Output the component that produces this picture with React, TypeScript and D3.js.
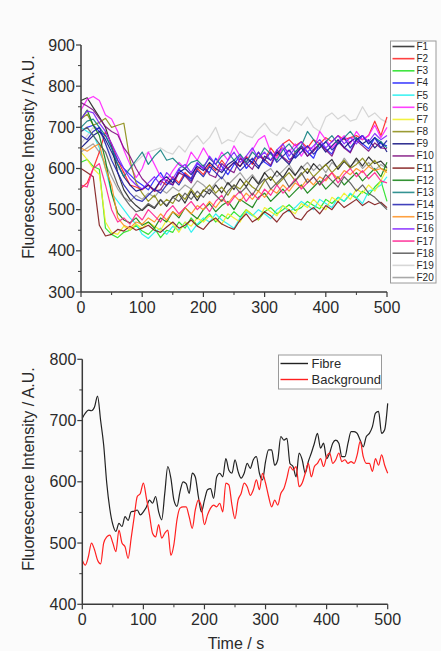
import React from "react";
import * as d3 from "d3";

// ---------- Top chart data (t = 0..500 s, step 10) ----------
const TOP_TIME = d3.range(0, 501, 10);
const SERIES_NAMES = ["F1","F2","F3","F4","F5","F6","F7","F8","F9","F10","F11","F12","F13","F14","F15","F16","F17","F18","F19","F20"];
const SERIES_COLORS = ["#222222","#ff2020","#20e020","#2020ff","#20f0f0","#ff20ff","#f0f020","#8a8a10","#101080","#801080","#801818","#108010","#108080","#2020b0","#ff9020","#8020ff","#ff2090","#555555","#d0d0d0","#9a9a9a"];

const F1 = [765,772,748,725,700,655,590,548,525,510,498,512,503,524,508,531,538,516,545,522,548,538,560,541,566,549,575,556,580,562,590,571,594,578,601,583,606,588,612,596,609,622,598,617,603,625,606,628,612,618,602];
const F2 = [552,565,600,640,690,660,620,590,560,555,548,560,545,570,560,580,565,590,575,600,585,610,595,620,600,615,605,630,610,640,620,650,630,660,670,655,665,650,670,660,675,665,680,670,675,680,670,680,715,680,725];
const F3 = [615,622,605,598,455,440,432,445,450,462,448,440,455,432,450,445,470,455,480,462,475,490,470,488,478,495,482,500,488,475,495,505,490,500,512,498,505,520,510,502,525,515,530,520,538,528,545,535,555,570,520];
const F4 = [690,700,705,690,680,650,620,600,585,570,560,548,572,590,565,560,598,585,575,612,600,590,625,605,585,610,632,600,618,640,615,605,638,650,622,628,655,640,625,662,648,635,668,652,640,672,660,648,675,660,655];
const F5 = [700,690,682,650,600,540,520,500,480,465,440,430,445,455,440,460,450,470,445,465,480,470,490,475,465,455,480,495,485,500,490,478,500,510,495,505,520,510,500,525,515,505,530,520,540,530,515,545,550,560,580];
const F6 = [742,768,775,765,730,720,690,645,610,578,600,640,610,580,570,595,615,600,640,620,650,625,610,640,620,655,630,615,645,670,680,640,625,650,640,660,630,655,645,690,670,650,665,680,660,690,670,680,705,675,700];
const F7 = [640,622,600,585,470,445,440,460,450,465,455,470,460,450,475,465,445,470,460,480,470,485,475,465,490,480,470,500,488,475,505,495,485,510,500,490,515,505,525,510,500,530,520,540,525,550,540,560,545,570,600];
const F8 = [720,732,705,712,722,700,705,710,620,565,540,520,535,510,525,515,540,525,550,530,545,560,540,555,535,560,550,570,555,545,570,580,560,575,590,570,585,600,580,595,610,590,605,620,600,610,625,605,620,600,595];
const F9 = [650,665,680,690,670,640,610,580,560,545,550,560,548,570,580,565,590,600,585,605,595,615,600,590,610,620,605,625,615,600,630,620,640,625,610,635,650,630,645,660,640,655,670,650,665,675,660,670,650,665,640];
const F10 = [760,752,742,722,702,690,682,650,630,600,575,560,545,548,572,560,590,582,565,600,608,585,578,612,598,590,625,612,598,630,622,608,645,628,615,640,655,630,642,660,645,630,665,650,638,668,655,642,662,650,648];
const F11 = [600,590,580,462,436,440,452,448,460,450,455,462,450,445,458,470,455,462,475,460,452,470,480,465,458,452,475,490,470,480,495,485,470,490,500,480,475,495,505,490,510,500,520,505,515,525,510,520,512,518,505];
const F12 = [720,742,705,680,620,540,492,475,468,480,462,470,455,480,470,495,480,505,490,478,500,515,495,510,520,500,525,515,505,530,540,520,535,550,530,545,560,540,555,570,550,565,580,560,575,590,570,585,600,580,615];
const F13 = [700,715,720,700,680,650,610,580,600,620,640,610,630,645,620,625,610,600,615,620,605,625,610,630,640,620,635,615,640,625,650,635,620,645,660,640,655,690,670,650,665,680,660,675,690,670,680,660,675,665,650];
const F14 = [680,670,690,700,660,620,590,560,540,525,520,535,550,540,560,575,560,585,570,595,580,605,590,575,600,615,595,610,625,605,620,640,615,630,645,625,640,655,635,650,665,645,660,675,650,670,680,660,675,650,668];
const F15 = [650,642,652,660,600,560,480,462,455,470,465,480,470,490,475,495,485,505,490,510,500,520,505,525,515,535,520,540,525,545,530,550,540,560,545,565,555,575,560,580,570,590,575,595,585,600,590,605,595,600,590];
const F16 = [720,740,735,710,690,660,630,600,575,560,550,565,580,560,590,575,600,610,590,615,600,630,610,595,620,640,615,630,650,625,640,620,645,660,630,650,665,640,655,670,650,665,680,660,675,660,680,665,685,670,680];
const F17 = [560,555,600,612,560,500,470,480,465,490,475,500,485,470,495,510,490,505,520,500,515,495,520,535,510,530,545,520,540,525,550,535,560,540,555,575,550,565,580,560,575,590,565,585,600,580,595,575,590,570,565];
const F18 = [690,700,680,660,640,600,560,530,510,495,500,515,505,525,510,530,520,540,525,545,530,550,535,520,545,560,540,555,535,560,575,550,565,580,555,570,590,565,580,560,585,570,555,580,565,545,560,540,530,515,500];
const F19 = [660,680,700,690,660,630,600,590,600,615,630,640,645,650,640,635,655,640,665,680,660,675,700,660,670,665,690,680,675,695,710,690,680,700,690,715,705,725,700,690,725,735,720,730,715,720,750,725,735,720,712];
const F20 = [640,650,660,640,610,580,550,530,520,535,525,540,530,550,540,555,545,560,550,570,560,545,565,580,560,575,590,570,585,565,590,600,580,595,610,585,600,615,595,610,590,615,600,625,605,620,600,615,595,610,600];
const TOP_SERIES = [F1,F2,F3,F4,F5,F6,F7,F8,F9,F10,F11,F12,F13,F14,F15,F16,F17,F18,F19,F20];
// draw order: light gray first so the tangle sits over it
const DRAW_ORDER = [18,19,0,1,2,3,4,5,6,7,8,9,10,11,12,13,14,15,16,17];

// ---------- Bottom chart data (t = 0..500 s, step 5) ----------
const BOTTOM_TIME = d3.range(0, 501, 5);
const FIBRE = [704,712,717,716,722,740,700,660,598,556,530,519,532,527,543,537,551,552,554,546,551,559,570,565,576,551,538,581,625,606,570,560,584,600,597,581,614,608,576,551,570,587,589,573,608,614,608,638,619,614,636,617,606,614,630,622,636,641,614,603,633,652,652,627,636,674,668,671,630,625,608,647,636,614,633,647,663,679,655,663,638,647,663,668,663,641,641,663,682,682,679,668,657,674,679,690,712,715,679,685,728];
const BACKGROUND = [472,464,478,500,489,472,466,500,510,513,500,486,521,500,494,475,508,543,576,581,598,573,546,516,510,530,508,516,521,480,498,538,557,559,559,543,524,554,570,559,530,546,557,562,559,565,551,598,595,562,540,570,581,598,592,578,587,603,587,614,598,576,559,570,562,581,589,606,625,619,625,592,598,614,630,608,625,630,638,625,641,647,630,636,647,633,636,630,633,630,644,666,641,630,630,617,638,627,644,627,614];
const BOTTOM_NAMES = ["Fibre", "Background"];
const BOTTOM_COLORS = ["#222222", "#ff2020"];

const X_TICKS = [0, 100, 200, 300, 400, 500];
const TOP_Y_TICKS = [300, 400, 500, 600, 700, 800, 900];
const BOTTOM_Y_TICKS = [400, 500, 600, 700, 800];

const FONT = "Arial, 'Liberation Sans', sans-serif";
const AXIS_COLOR = "#3a3a3a";
const TEXT_COLOR = "#2a2a2a";

function Axes({ x, y, xTicks, yTicks }: any) {
  const [x0, x1] = x.range();
  const [y0, y1] = y.range();
  const xd = x.domain();
  const yd = y.domain();
  const xMinor = d3.range(xd[0], xd[1] + 1, 50).filter((v: number) => !xTicks.includes(v));
  const yMinor = d3.range(yd[0], yd[1] + 1, 50).filter((v: number) => !yTicks.includes(v));
  return (
    <g>
      <line x1={x0} x2={x1} y1={y0} y2={y0} stroke={AXIS_COLOR} strokeWidth={1.5} />
      <line x1={x0} x2={x0} y1={y0} y2={y1} stroke={AXIS_COLOR} strokeWidth={1.5} />
      {xTicks.map((t: number) => (
        <g key={"xt" + t}>
          <line x1={x(t)} x2={x(t)} y1={y0} y2={y0 + 5} stroke={AXIS_COLOR} strokeWidth={1.2} />
          <text x={x(t)} y={y0 + 21} textAnchor="middle" fontSize={16} fill={TEXT_COLOR} fontFamily={FONT}>{t}</text>
        </g>
      ))}
      {xMinor.map((t: number) => (
        <line key={"xm" + t} x1={x(t)} x2={x(t)} y1={y0} y2={y0 + 3} stroke={AXIS_COLOR} strokeWidth={1} />
      ))}
      {yTicks.map((t: number) => (
        <g key={"yt" + t}>
          <line x1={x0 - 5} x2={x0} y1={y(t)} y2={y(t)} stroke={AXIS_COLOR} strokeWidth={1.2} />
          <text x={x0 - 6} y={y(t) + 5.5} textAnchor="end" fontSize={16} fill={TEXT_COLOR} fontFamily={FONT}>{t}</text>
        </g>
      ))}
      {yMinor.map((t: number) => (
        <line key={"ym" + t} x1={x0 - 3} x2={x0} y1={y(t)} y2={y(t)} stroke={AXIS_COLOR} strokeWidth={1} />
      ))}
    </g>
  );
}

export default function App() {
  const W = 441, H = 651;

  // top chart
  const xTop = d3.scaleLinear().domain([0, 500]).range([81, 387]);
  const yTop = d3.scaleLinear().domain([300, 900]).range([292, 45]);
  const lineTop = d3.line<number>()
    .x((_, i) => xTop(TOP_TIME[i]))
    .y((d) => yTop(d));

  // bottom chart
  const xBot = d3.scaleLinear().domain([0, 500]).range([82.3, 387.7]);
  const yBot = d3.scaleLinear().domain([400, 800]).range([604.3, 359.3]);
  const lineBot = d3.line<number>()
    .x((_, i) => xBot(BOTTOM_TIME[i]))
    .y((d) => yBot(d))
    .curve(d3.curveMonotoneX);

  const legTop = { x: 390.5, y: 41, w: 45.5, h: 242, first: 46.5, step: 12.16 };

  return (
    <svg width={W} height={H} style={{ position: "absolute", left: 0, top: 0, background: "#fbfbfb" }}>
      <rect x={0} y={0} width={W} height={H} fill="#fbfbfb" />

      {/* ---------- Top chart ---------- */}
      <g>
        {DRAW_ORDER.map((i) => (
          <path key={SERIES_NAMES[i]} d={lineTop(TOP_SERIES[i]) || ""} fill="none"
            stroke={SERIES_COLORS[i]} strokeWidth={1.2} strokeOpacity={0.9} strokeLinejoin="round" />
        ))}
        <Axes x={xTop} y={yTop} xTicks={X_TICKS} yTicks={TOP_Y_TICKS} />
        <text transform={`translate(34,157) rotate(-90)`} textAnchor="middle" fontSize={16}
          fill={TEXT_COLOR} fontFamily={FONT}>Fluorescence Intensity / A.U.</text>

        <rect x={legTop.x} y={legTop.y} width={legTop.w} height={legTop.h} fill="#ffffff" stroke="#9a9a9a" strokeWidth={1} />
        {SERIES_NAMES.map((n, i) => {
          const yy = legTop.first + i * legTop.step;
          return (
            <g key={"lg" + n}>
              <line x1={392.5} x2={414.5} y1={yy} y2={yy} stroke={SERIES_COLORS[i]} strokeWidth={1.6} strokeOpacity={0.85} />
              <text x={416.5} y={yy + 3.5} fontSize={10} fill={TEXT_COLOR} fontFamily={FONT}>{n}</text>
            </g>
          );
        })}
      </g>

      {/* ---------- Bottom chart ---------- */}
      <g>
        <path d={lineBot(FIBRE) || ""} fill="none" stroke={BOTTOM_COLORS[0]} strokeWidth={1.2} strokeLinejoin="round" />
        <path d={lineBot(BACKGROUND) || ""} fill="none" stroke={BOTTOM_COLORS[1]} strokeWidth={1.2} strokeLinejoin="round" />
        <Axes x={xBot} y={yBot} xTicks={X_TICKS} yTicks={BOTTOM_Y_TICKS} />
        <text transform={`translate(34,469) rotate(-90)`} textAnchor="middle" fontSize={16}
          fill={TEXT_COLOR} fontFamily={FONT}>Fluorescence Intensity / A.U.</text>
        <text x={236} y={649} textAnchor="middle" fontSize={16} fill={TEXT_COLOR} fontFamily={FONT}>Time / s</text>

        <rect x={278.5} y={355} width={103} height={34} fill="#ffffff" stroke="#9a9a9a" strokeWidth={1} />
        {BOTTOM_NAMES.map((n, i) => {
          const yy = 363.5 + i * 16;
          return (
            <g key={"bl" + n}>
              <line x1={280.5} x2={308} y1={yy} y2={yy} stroke={BOTTOM_COLORS[i]} strokeWidth={1.4} />
              <text x={311.5} y={yy + 4.5} fontSize={13} fill={TEXT_COLOR} fontFamily={FONT}>{n}</text>
            </g>
          );
        })}
      </g>
    </svg>
  );
}
